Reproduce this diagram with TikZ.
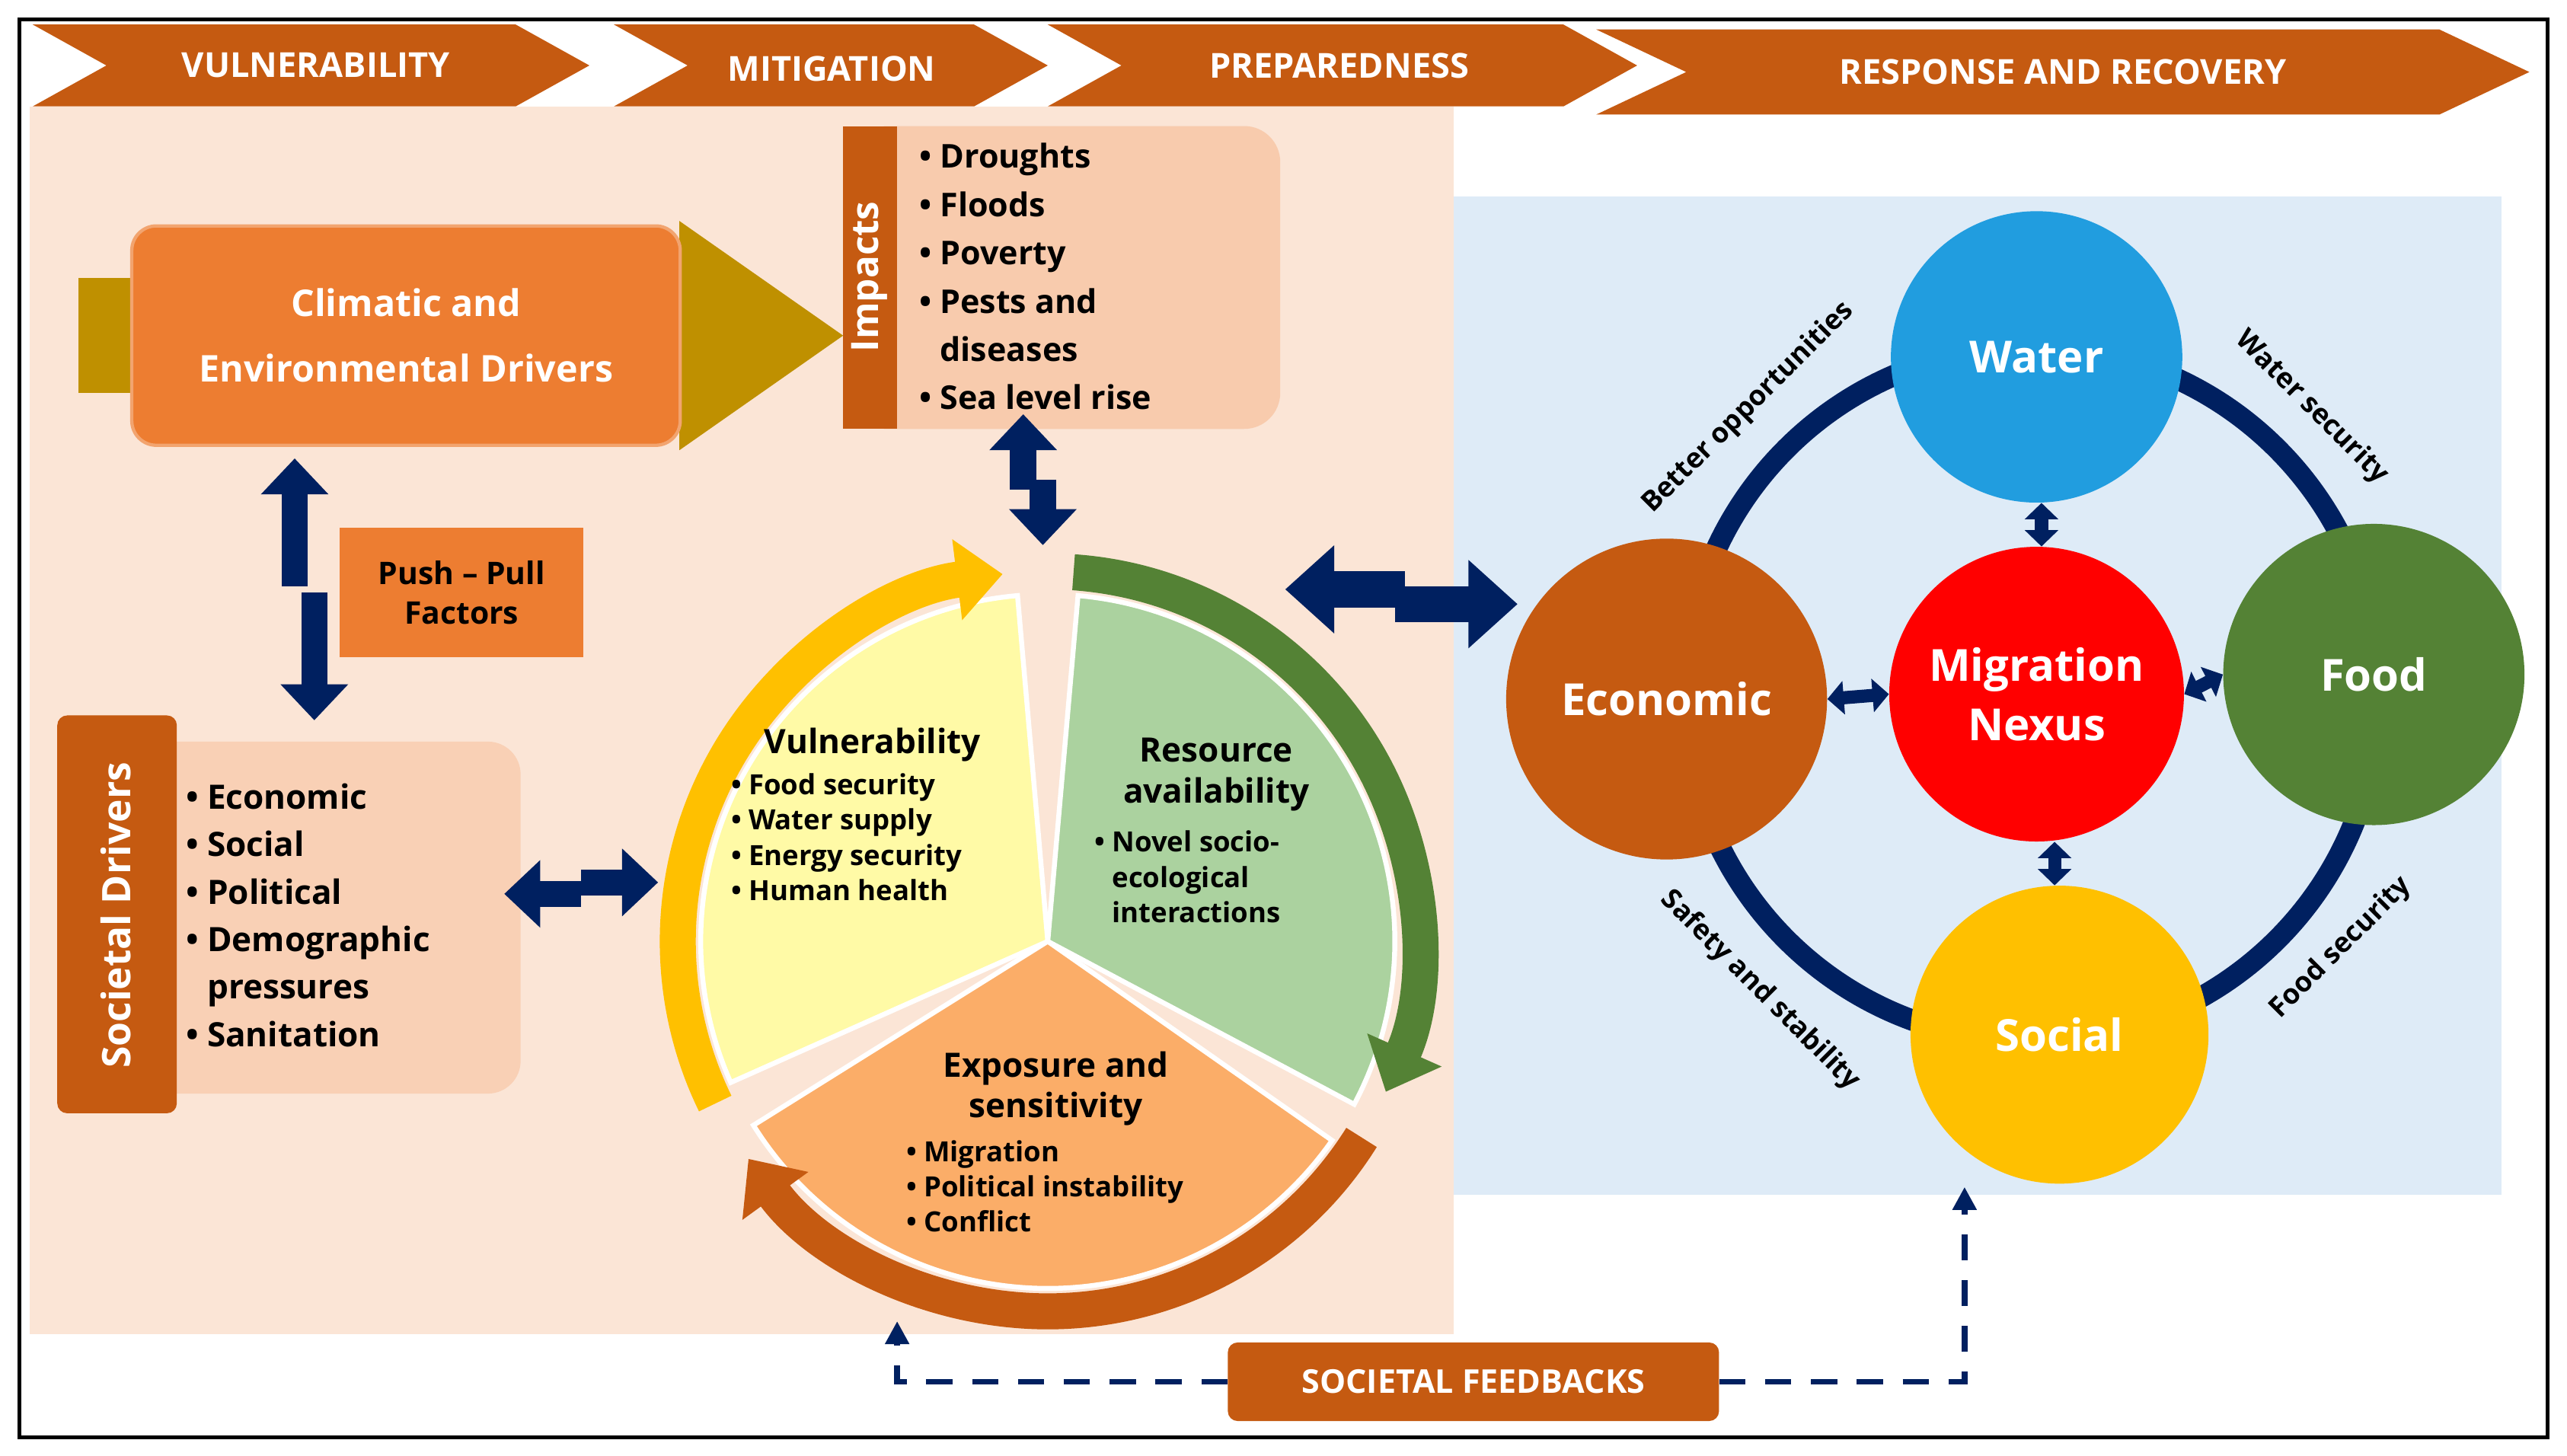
\documentclass[tikz,border=0pt]{standalone}
\usepackage{fontspec}
\setmainfont{Open Sans}
\usetikzlibrary{arrows.meta}
\definecolor{dor}{HTML}{C55A11}
\definecolor{lor}{HTML}{ED7D31}
\definecolor{navy}{HTML}{002060}
\definecolor{gold}{HTML}{BF9000}
\definecolor{peach}{HTML}{FBE5D6}
\definecolor{pink}{HTML}{F8CBAD}
\definecolor{lblue}{HTML}{DEEBF7}
\definecolor{dgreen}{HTML}{548235}
\definecolor{yel}{HTML}{FFC000}
\begin{document}
\begin{tikzpicture}[x=1pt,y=1pt,font=\bfseries,
  chev/.style={fill=dor},
  chevtxt/.style={text=white,font=\fontsize{21}{24}\selectfont\bfseries},
  nav/.style={navy,line width=16,-{Triangle[length=22,width=40]}},
  navs/.style={navy,line width=8,{Triangle[length=10,width=20]}-{Triangle[length=10,width=20]}},
  bul/.style={align=left,anchor=west,font=\fontsize{20.5}{29}\selectfont\bfseries},
  cbul/.style={align=left,font=\fontsize{17}{21.5}\selectfont\bfseries},
  chead/.style={align=center,font=\fontsize{20.5}{25}\selectfont\bfseries},
  circ/.style={circle,text=white,align=center,font=\fontsize{27}{36}\selectfont\bfseries},
  ringl/.style={font=\fontsize{17}{22}\selectfont\bfseries}]
\useasboundingbox (0,0) rectangle (1568,889);
\fill[white] (0,0) rectangle (1568,889);
\draw[line width=2.5] (12,11) rectangle (1556,877);
% backgrounds
\fill[peach] (18,74) rectangle (888,824);
\fill[lblue] (888,159) rectangle (1528,769);
% chevrons
\fill[chev] (20,874)--(315,874)--(360,849)--(315,824)--(20,824)--(65,849)--cycle;
\fill[chev] (375,874)--(595,874)--(640,849)--(595,824)--(375,824)--(420,849)--cycle;
\fill[chev] (640,874)--(955,874)--(1000,849)--(955,824)--(640,824)--(685,849)--cycle;
\fill[chev] (975,871)--(1490,871)--(1545,845)--(1490,819)--(975,819)--(1030,845)--cycle;
\node[chevtxt] (cv) at (193,849) {VULNERABILITY};
\node[chevtxt] (cm) at (508,847) {MITIGATION};
\node[chevtxt] (cp) at (818,849) {PREPAREDNESS};
\node[chevtxt] (cr) at (1260,845) {RESPONSE AND RECOVERY};
% climatic drivers
\fill[gold] (48,649) rectangle (420,719);
\fill[gold] (415,754)--(515,684)--(415,614)--cycle;
\node[draw=lor!70!white,line width=2,fill=lor,rounded corners=15,minimum width=335,minimum height=134,text=white,align=center,font=\fontsize{22.5}{40}\selectfont\bfseries] (clim) at (248,684) {Climatic and\\Environmental\ Drivers};
% impacts
\fill[pink] (540,627) -- (760,627) arc (-90:0:22) -- (782,790) arc (0:90:22) -- (540,812) -- cycle;
\fill[dor] (515,627) rectangle (548,812);
\node[rotate=90,text=white,font=\fontsize{23}{28}\selectfont\bfseries] (imp) at (531,720) {Impacts};
\node[bul,font=\fontsize{20}{29.5}\selectfont\bfseries] (impl) at (558,720) {• Droughts\\• Floods\\• Poverty\\• Pests and\\\phantom{• }diseases\\• Sea level rise};
% push pull
\node[fill=lor,minimum width=149,minimum height=79,align=center,font=\fontsize{19}{24}\selectfont\bfseries] (pp) at (282,527) {Push – Pull\\Factors};
\coordinate (a1) at (180,531); \coordinate (a1e) at (180,609);
\coordinate (a2) at (192,527); \coordinate (a2e) at (192,449);
\draw[nav] (a1)--(a1e); \draw[nav] (a2)--(a2e);
% societal drivers
\fill[pink!80!peach] (100,221) -- (298,221) arc (-90:0:20) -- (318,416) arc (0:90:20) -- (100,436) -- cycle;
\fill[dor,rounded corners=6] (35,209) rectangle (108,452);
\node[rotate=90,text=white,font=\fontsize{24}{30}\selectfont\bfseries] (sd) at (71,330) {Societal Drivers};
\node[bul] (sdl) at (110,330) {• Economic\\• Social\\• Political\\• Demographic\\\phantom{• }pressures\\• Sanitation};
\coordinate (b1) at (355,343); \coordinate (b1e) at (308,343);
\coordinate (b2) at (355,350); \coordinate (b2e) at (402,350);
\draw[nav] (b1)--(b1e); \draw[nav] (b2)--(b2e);
% cycle
\coordinate (C) at (640,314);
\fill[yellow!35!white,draw=white,line width=3] (C) -- ++(204:212) arc (204:95:212) -- cycle;
\fill[green!20!dgreen!45!white,draw=white,line width=3] (C) -- ++(85:212) arc (85:-28:212) -- cycle;
\fill[orange!40!pink,draw=white,line width=3] (C) -- ++(-35:212) arc (-35:-148:212) -- cycle;
\draw[yel,line width=22,-{Triangle[length=28,width=48]}] (C) ++(206:226) arc (206:97:226);
\draw[dgreen,line width=22,-{Triangle[length=28,width=48]}] (C) ++(86:226) arc (86:-24:226);
\draw[dor,line width=22,-{Triangle[length=28,width=48]}] (C) ++(-32:226) arc (-32:-144:226);
\node[chead] (vh) at (533,434) {Vulnerability};
\node[cbul,anchor=north west] (vl) at (443,420) {• Food security\\• Water supply\\• Energy security\\• Human health};
\node[chead] (rh) at (743,416) {Resource\\availability};
\node[cbul,anchor=north west] (rl) at (665,385) {• Novel socio-\\\phantom{• }ecological\\\phantom{• }interactions};
\node[chead] (eh) at (645,224) {Exposure and\\sensitivity};
\node[cbul,anchor=north west] (el) at (550,196) {• Migration\\• Political instability\\• Conflict};
\coordinate (c1) at (625,590); \coordinate (c1e) at (625,636);
\coordinate (c2) at (637,596); \coordinate (c2e) at (637,556);
\draw[nav] (c1)--(c1e); \draw[nav] (c2)--(c2e);
\coordinate (d1) at (858,529); \coordinate (d1e) at (785,529);
\coordinate (d2) at (852,520); \coordinate (d2e) at (927,520);
\draw[nav,line width=22,-{Triangle[length=30,width=52]}] (d1)--(d1e);
\draw[nav,line width=22,-{Triangle[length=30,width=52]}] (d2)--(d2e);
% nexus
\draw[navy,line width=13] (1241,465) circle (212);
\node[circ,fill=dor,minimum size=196] (eco) at (1018,462) {Economic};
\node[circ,fill=red,minimum size=180] (nex) at (1244,465) {Migration\\Nexus};
\node[circ,fill=dgreen,minimum size=184] (food) at (1450,477) {Food};
\node[circ,fill=yel,minimum size=182] (soc) at (1258,257) {Social};
\node[circ,fill=cyan!80!blue!90!white,minimum size=178] (wat) at (1244,671) {Water};
\draw[navs] ([xshift=3]nex.north) -- ([xshift=3]wat.south);
\draw[navs] (nex.west) -- (eco.east);
\draw[navs] (nex.east) -- (food.west);
\draw[navs] ([xshift=11]nex.south) -- ([xshift=-3]soc.north);
\node[ringl,rotate=45] (l1) at (1068,640) {Better opportunities};
\node[ringl,rotate=-45] (l2) at (1412,640) {Water security};
\node[ringl,rotate=-45] (l3) at (1075,284) {Safety and stability};
\node[ringl,rotate=45] (l4) at (1430,310) {Food security};
% feedback
\node[fill=dor,rounded corners=6,minimum width=300,minimum height=48,text=white,font=\fontsize{20}{25}\selectfont\bfseries] (fb) at (900,45) {SOCIETAL FEEDBACKS};
\coordinate (f1) at (548,82); \coordinate (f2) at (1200,164);
\draw[navy,line width=3.5,dash pattern=on 16 off 12,-{Triangle[length=14,width=14]}] (fb.west) -| (f1);
\draw[navy,line width=3.5,dash pattern=on 16 off 12,-{Triangle[length=14,width=14]}] (fb.east) -| (f2);
\end{tikzpicture}
\end{document}
